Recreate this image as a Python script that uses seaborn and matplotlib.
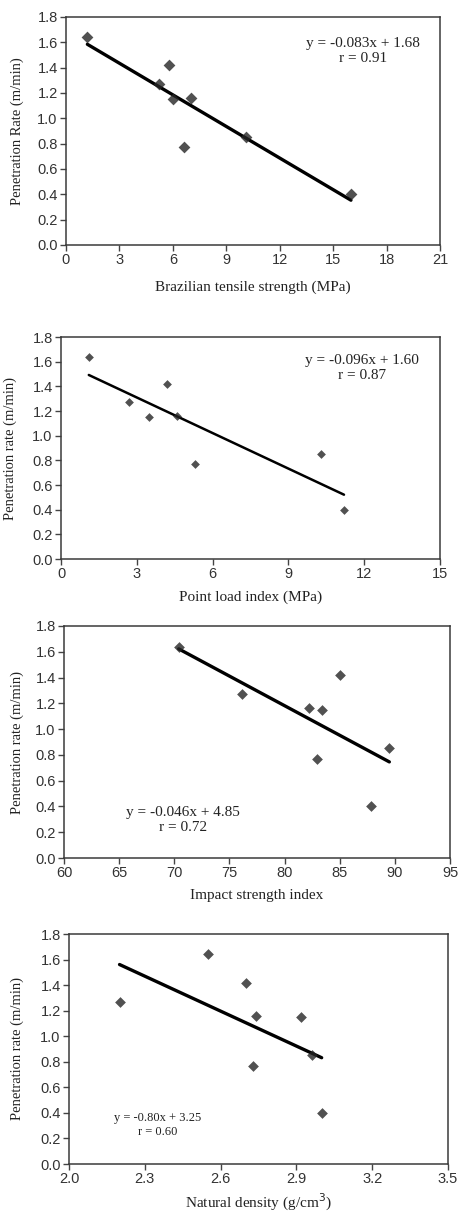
import numpy as np
import pandas as pd
import matplotlib
matplotlib.use("Agg")
import matplotlib.pyplot as plt
import seaborn as sns

sns.set_style("ticks")
plt.rcParams['font.family'] = ['Liberation Sans', 'DejaVu Sans']

# ---- data ----
penetration = [1.64, 1.27, 1.42, 1.15, 1.16, 0.77, 0.85, 0.40]
brazilian = [1.2, 5.2, 5.8, 6.0, 7.0, 6.6, 10.1, 16.0]
point_pr = [1.64, 1.27, 1.15, 1.42, 1.16, 0.77, 0.85, 0.40]
point_load = [1.1, 2.7, 3.5, 4.2, 4.6, 5.3, 10.3, 11.2]
impact_pr = [1.64, 1.27, 1.16, 1.15, 1.42, 0.77, 0.40, 0.85]
impact = [70.4, 76.1, 82.2, 83.4, 85.0, 82.9, 87.8, 89.5]
density_pr = [1.27, 1.64, 1.42, 1.16, 0.77, 1.15, 0.85, 0.40]
density = [2.20, 2.55, 2.70, 2.74, 2.73, 2.92, 2.96, 3.00]

panels = [
    dict(x=brazilian, y=penetration, xlabel="Brazilian tensile strength (MPa)",
         ylabel="Penetration Rate (m/min)", xlim=(0, 21), xticks=[0, 3, 6, 9, 12, 15, 18, 21],
         xfmt="{:g}", eq="y = -0.083x + 1.68\nr = 0.91",
         box=(66, 17, 440, 245), eqpos=(363, 51), ylx=17, xly=287, ms=36, lw=2.4, eqfs=11),
    dict(x=point_load, y=point_pr, xlabel="Point load index (MPa)",
         ylabel="Penetration rate (m/min)", xlim=(0, 15), xticks=[0, 3, 6, 9, 12, 15],
         xfmt="{:g}", eq="y = -0.096x + 1.60\nr = 0.87",
         box=(61, 337, 440, 559), eqpos=(362, 368), ylx=10, xly=597, ms=20, lw=1.8, eqfs=11),
    dict(x=impact, y=impact_pr, xlabel="Impact strength index",
         ylabel="Penetration rate (m/min)", xlim=(60, 95), xticks=[60, 65, 70, 75, 80, 85, 90, 95],
         xfmt="{:g}", eq="y = -0.046x + 4.85\nr = 0.72",
         box=(64, 626, 450, 858), eqpos=(183, 820), ylx=17, xly=896, ms=30, lw=2.4, eqfs=11),
    dict(x=density, y=density_pr, xlabel="Natural density (g/cm$^3$)",
         ylabel="Penetration rate (m/min)", xlim=(2.0, 3.5), xticks=[2.0, 2.3, 2.6, 2.9, 3.2, 3.5],
         xfmt="{:.1f}", eq="y = -0.80x + 3.25\nr = 0.60",
         box=(69, 934, 448, 1164), eqpos=(158, 1125), ylx=17, xly=1202, ms=30, lw=2.4, eqfs=9),
]

W, H = 462, 1215
fig = plt.figure(figsize=(W / 100, H / 100), dpi=100)

yticks = [0.0, 0.2, 0.4, 0.6, 0.8, 1.0, 1.2, 1.4, 1.6, 1.8]
serif = ['Liberation Serif', 'DejaVu Serif']

for p in panels:
    l, t, r, b = p["box"]
    ax = fig.add_axes([l / W, 1 - b / H, (r - l) / W, (b - t) / H])
    df = pd.DataFrame({"x": p["x"], "y": p["y"]})
    sns.regplot(data=df, x="x", y="y", ax=ax, ci=None, truncate=True,
                marker="D",
                scatter_kws=dict(s=p["ms"], color="#252525", linewidths=0, zorder=3),
                line_kws=dict(color="black", lw=p["lw"], zorder=2))
    ax.set_xlim(*p["xlim"])
    ax.set_ylim(0, 1.8)
    ax.set_xticks(p["xticks"])
    ax.set_xticklabels([p["xfmt"].format(v) for v in p["xticks"]])
    ax.set_yticks(yticks)
    ax.set_yticklabels([f"{v:.1f}" for v in yticks])
    ax.tick_params(axis="both", direction="out", length=4, width=1, colors="#444444",
                   labelsize=10.5, labelcolor="#333333", pad=2)
    for s in ["left", "bottom", "top", "right"]:
        ax.spines[s].set_visible(True)
        ax.spines[s].set_linewidth(1.1)
        ax.spines[s].set_color("#3a3a3a")
    ax.set_xlabel(p["xlabel"], fontsize=11, family=serif, color="#222222")
    ax.set_ylabel(p["ylabel"], fontsize=10.5, family=serif, color="#222222")
    ax.xaxis.set_label_coords(0.5, -(p["xly"] - b) / (b - t))
    ax.yaxis.set_label_coords((p["ylx"] - l) / (r - l), 0.5)
    ax.yaxis.label.set_verticalalignment("center")
    ax.xaxis.label.set_verticalalignment("center")
    ex, ey = p["eqpos"]
    fig.text(ex / W, 1 - ey / H, p["eq"], ha="center", va="center", ma="center",
             fontsize=p["eqfs"], family=serif, color="#222222", linespacing=1.15)

fig.savefig("out.png", dpi=100)
